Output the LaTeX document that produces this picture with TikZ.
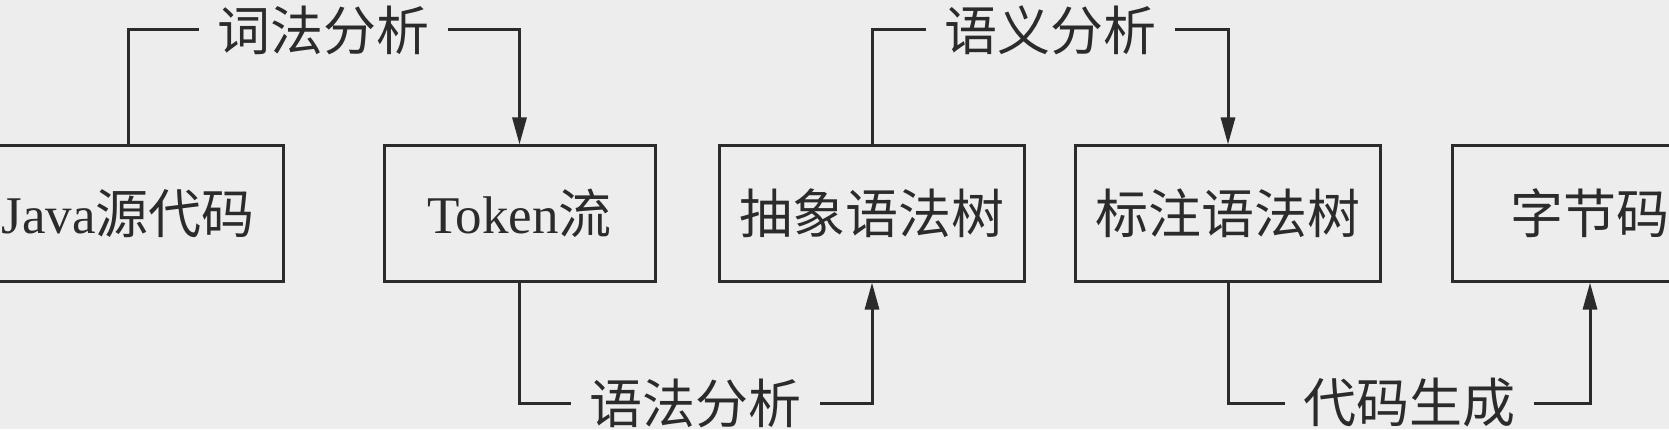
\documentclass[tikz,border=0pt]{standalone}
\usepackage{fontspec}
\setmainfont{Liberation Serif}
\newfontfamily\cjk{Noto Sans CJK SC}
\usepackage{xcolor}
\usetikzlibrary{arrows.meta}
\definecolor{paper}{HTML}{EDEDED}
\definecolor{ink}{HTML}{2B2B2B}

\begin{document}
\begin{tikzpicture}[x=0.5pt, y=0.5pt, line width=1.5pt, color=ink,
        every node/.append style={font=\fontsize{26.5pt}{30pt}\selectfont},
        stage/.style={draw, minimum height=67.5pt, inner sep=0pt},
        phase/.style={inner xsep=8.5pt, inner ysep=2pt, font=\fontsize{26.5pt}{30pt}\selectfont\cjk},
        flow/.style={-{Triangle[length=13.5pt, width=7pt]}}]
        \fill[paper] (0,0) rectangle (1669,429);
        \useasboundingbox (0,0) rectangle (1669,429);
        \clip (0,0) rectangle (1669,429);

        \node[stage, minimum width=155pt] (src) at (128,215.5) {Java{\cjk 源代码}};
        \node[stage, minimum width=135.5pt] (tok) at (519.5,215.5) {Token{\cjk 流}};
        \node[stage, minimum width=152.5pt] (ast) at (872,215.5) {\cjk 抽象语法树};
        \node[stage, minimum width=152.5pt] (ann) at (1228,215.5) {\cjk 标注语法树};
        \node[stage, minimum width=138pt] (bc) at (1590,215.5) {\cjk 字节码};

        \node[phase] (lex) at (323.5,399) {词法分析};
        \node[phase] (syn) at (695.5,26) {语法分析};
        \node[phase] (sem) at (1050,399) {语义分析};
        \node[phase] (gen) at (1409,26) {代码生成};

        \draw (src.north) |- (lex.west);
        \draw[flow] (lex.east) -| (tok.north);
        \draw (tok.south) |- (syn.west);
        \draw[flow] (syn.east) -| (ast.south);
        \draw (ast.north) |- (sem.west);
        \draw[flow] (sem.east) -| (ann.north);
        \draw (ann.south) |- (gen.west);
        \draw[flow] (gen.east) -| (bc.south);
    \end{tikzpicture}
\end{document}
